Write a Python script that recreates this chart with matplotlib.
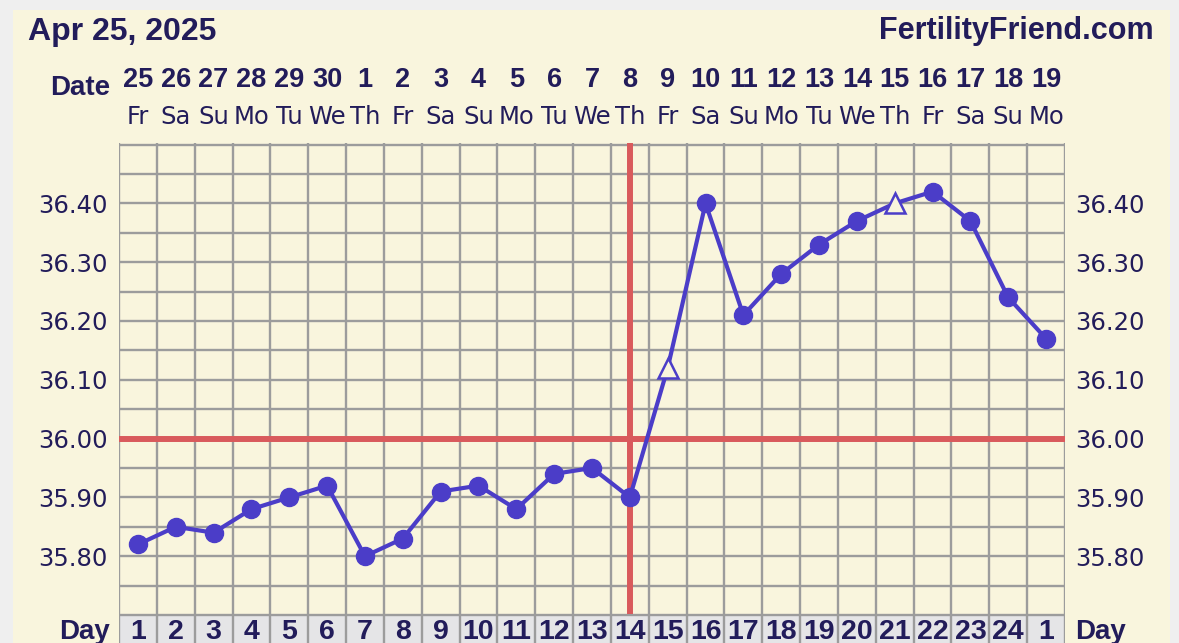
import matplotlib
matplotlib.use("Agg")
import matplotlib.pyplot as plt
import matplotlib.transforms as mtransforms

# ---------------- data ----------------
date_nums = ["25", "26", "27", "28", "29", "30", "1", "2", "3", "4", "5", "6", "7",
             "8", "9", "10", "11", "12", "13", "14", "15", "16", "17", "18", "19"]
weekdays = ["Fr", "Sa", "Su", "Mo", "Tu", "We", "Th", "Fr", "Sa", "Su", "Mo", "Tu", "We",
            "Th", "Fr", "Sa", "Su", "Mo", "Tu", "We", "Th", "Fr", "Sa", "Su", "Mo"]
cycle_days = ["1", "2", "3", "4", "5", "6", "7", "8", "9", "10", "11", "12", "13",
              "14", "15", "16", "17", "18", "19", "20", "21", "22", "23", "24", "1"]
temps = [35.82, 35.85, 35.84, 35.88, 35.90, 35.92, 35.80, 35.83, 35.91, 35.92, 35.88,
         35.94, 35.95, 35.90, 36.12, 36.40, 36.21, 36.28, 36.33, 36.37, 36.40, 36.42,
         36.37, 36.24, 36.17]
open_triangle_days = [15, 21]          # cycle-day positions drawn as open triangles
ovulation_day = 14
coverline = 36.00
y_tick_values = [35.80, 35.90, 36.00, 36.10, 36.20, 36.30, 36.40]
y_tick_labels = ["35.80", "35.90", "36.00", "36.10", "36.20", "36.30", "36.40"]
grid_minor = [35.70, 35.75, 35.85, 35.95, 36.05, 36.15, 36.25, 36.35, 36.45, 36.50]
title_left = "Apr 25, 2025"
title_right = "FertilityFriend.com"

# ---------------- style ----------------
W, H = 1179, 643
CREAM = "#f9f5dd"
OUTER = "#efefef"
NAVY = "#221c5a"
LINE = "#4b3dc8"
RED = "#d95a5c"
GRID = "#9c9c9c"
DAYROW = "#e5e5e7"
BOLD = dict(family=["Liberation Sans", "DejaVu Sans"], weight="bold")
NORM = dict(family=["DejaVu Sans"])

def fx(px):
    return px / W

def fy(py):
    return 1 - py / H

fig = plt.figure(figsize=(W / 100, H / 100), dpi=100, facecolor=OUTER)
bg = fig.add_axes([fx(13), 0, fx(1170) - fx(13), fy(10)], zorder=-10)
bg.set_facecolor(CREAM)
bg.set_xticks([])
bg.set_yticks([])
for s in bg.spines.values():
    s.set_visible(False)

L, R, T, B = 119, 1065, 143, 615
ax = fig.add_axes([fx(L), fy(B), fx(R) - fx(L), (B - T) / H])
ax.set_facecolor(CREAM)
n = len(temps)
ax.set_xlim(0, n)
px_per_unit = 588.0
ax.set_ylim(35.70, 35.70 + (B - T) / px_per_unit)
for s in ax.spines.values():
    s.set_visible(False)

# grid
for i in range(n + 1):
    ax.axvline(i, color=GRID, lw=1.7, zorder=1)
for v in y_tick_values + grid_minor:
    ax.hlines(v, 0, n, color=GRID, lw=1.7, zorder=1)

# red lines
ax.axhline(coverline, color=RED, lw=4.3, zorder=2)
ax.axvline(ovulation_day - 0.5, ymin=4 / (B - T), ymax=1, color=RED, lw=4.3, zorder=2)

# data
xs = [i + 0.5 for i in range(n)]
ax.plot(xs, temps, color=LINE, lw=3.0, zorder=3, solid_capstyle="round")
cx = [x for x, d in zip(xs, range(1, n + 1)) if d not in open_triangle_days]
cy = [t for t, d in zip(temps, range(1, n + 1)) if d not in open_triangle_days]
tx = [xs[d - 1] for d in open_triangle_days]
ty = [temps[d - 1] for d in open_triangle_days]
ax.plot(cx, cy, "o", color=LINE, ms=13, zorder=4)
ax.plot(tx, ty, "^", mfc=CREAM, mec=LINE, mew=1.8, ms=15, zorder=4)

# y labels
ax.set_xticks([])
ax.set_yticks(y_tick_values)
ax.set_yticklabels(y_tick_labels, fontsize=17.5, color=NAVY, **NORM)
ax.tick_params(axis="y", length=0, pad=8)
ax2 = ax.twinx()
ax2.set_ylim(ax.get_ylim())
for s in ax2.spines.values():
    s.set_visible(False)
ax2.set_yticks(y_tick_values)
ax2.set_yticklabels(y_tick_labels, fontsize=17.5, color=NAVY, **NORM)
ax2.tick_params(axis="y", length=0, pad=7)

# top header
fig.text(fx(28), fy(40), title_left, fontsize=23, color=NAVY, ha="left", va="baseline", **BOLD)
fig.text(fx(1154), fy(39), title_right, fontsize=22, color=NAVY, ha="right", va="baseline", **BOLD)
fig.text(fx(110), fy(95), "Date", fontsize=20, color=NAVY, ha="right", va="baseline", **BOLD)

blend = mtransforms.blended_transform_factory(ax.transData, fig.transFigure)
for x, dn, wd in zip(xs, date_nums, weekdays):
    ax.text(x, fy(87), dn, transform=blend, fontsize=19.5, color=NAVY,
            ha="center", va="baseline", **BOLD)
    ax.text(x, fy(124), wd, transform=blend, fontsize=17.5, color=NAVY,
            ha="center", va="baseline", **NORM)

# day row
dax = fig.add_axes([fx(L), fy(H + 20), fx(R) - fx(L), (H + 20 - B) / H])
dax.set_facecolor(DAYROW)
dax.set_xlim(0, n)
dax.set_ylim(0, 1)
dax.set_xticks([])
dax.set_yticks([])
for s in dax.spines.values():
    s.set_visible(False)
for i in range(n + 1):
    dax.axvline(i, color=GRID, lw=1.7)
dax.axhline(1, color=GRID, lw=1.7)
dblend = mtransforms.blended_transform_factory(dax.transData, fig.transFigure)
for x, cd in zip(xs, cycle_days):
    dax.text(x, fy(639), cd, transform=dblend, fontsize=20.5, color=NAVY,
             ha="center", va="baseline", **BOLD)
fig.text(fx(110), fy(639), "Day", fontsize=20, color=NAVY, ha="right", va="baseline", **BOLD)
fig.text(fx(1075), fy(639), "Day", fontsize=20, color=NAVY, ha="left", va="baseline", **BOLD)

fig.savefig("out.png", dpi=100, facecolor=OUTER)
